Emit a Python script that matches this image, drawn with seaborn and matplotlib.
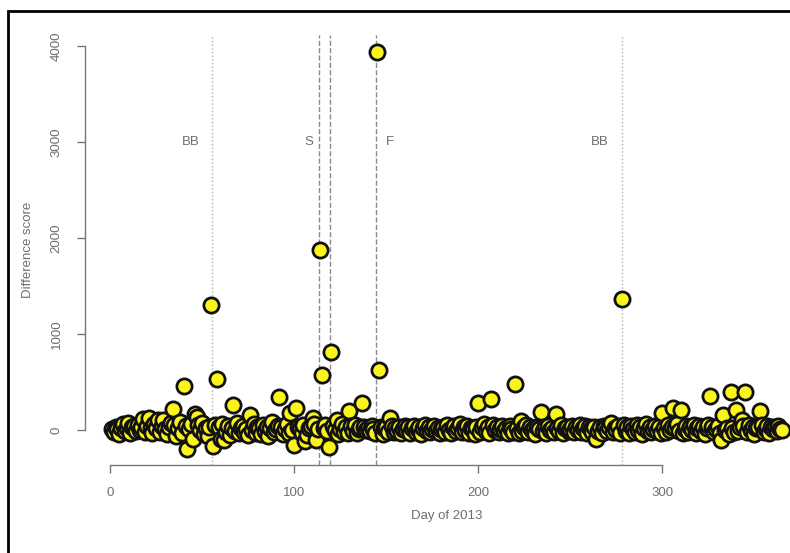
import matplotlib
matplotlib.use("Agg")
import matplotlib.pyplot as plt
import seaborn as sns
import pandas as pd
from matplotlib.patches import Rectangle

# ---------------- data ----------------
base_scores = [
    10, -20, 35, 5, -40, 20, 60, -10, 15, 70, -30, 25, 40, -15, 55, 0, 30, 80, -25, 45,
    110, 20, -35, 60, 15, 90, -20, 40, 100, 5, -45, 30, 70, -10, 50, -60, 20, 85, -30, 15,
    40, -50, 10, 65, -80, 30, -20, 55, 0, 75, -40, 20, -65, 35, 10, -30, 50, -15, 25, -45,
    60, 5, -25, 40, -55, 15, 30, -10, 70, -35, 20, 45, -20, 10, -50, 35, 0, 60, -30, 25,
    15, -40, 50, -10, 30, -60, 20, 80, -25, 10, 45, -15, 35, -45, 5, 60, -30, 25, -5, 40,
    -20, 30, 10, -35, 55, 0, -50, 20, 40, -15, 65, -25, 5, 35, -40, 15, 50, -10, 25, -30,
    45, -5, 20, -45, 10, 60, -20, 30, -35, 15, 40, -10, 55, -30, 5, 25, -50, 35, 0, 20,
    -15, 40, 10, -30, 50, -5, 25, -40, 15, 35, -20, 5, 45, -25, 20, -10, 30, -35, 10, 40,
    -5, 25, -30, 15, 45, -20, 5, 30, -40, 20, 55, -10, 35, -25, 10, 40, -15, 20, -30, 5,
    30, -20, 50, 0, -35, 25, 40, -10, 15, 60, -25, 30, -5, 45, -30, 20, 10, -40, 35, 5,
    -20, 30, 60, -10, 25, -35, 15, 50, -5, 35, -25, 10, 45, -15, 20, -30, 40, 5, -20, 30,
    15, -30, 45, -10, 25, 55, -20, 35, -5, 20, -40, 30, 10, 60, -15, 25, -35, 45, 0, 20,
    -25, 40, 15, -10, 50, -30, 20, 35, -15, 10, 45, -25, 30, -5, 55, -20, 15, 40, -35, 25,
    5, -20, 35, 60, -10, 25, -30, 45, 15, -15, 30, 70, -25, 20, -5, 40, -35, 15, 50, -10,
    25, -30, 40, 10, -20, 55, -5, 30, -40, 20, 65, -15, 35, -25, 10, 45, -10, 25, -35, 40,
    15, -25, 50, -5, 30, -45, 20, 60, -15, 35, -30, 10, 45, -20, 25, -5, 55, -35, 15, 40,
    -10, 30, -40, 20, 50, -15, 35, -25, 10, 45, -30, 25, 60, -5, 20, -40, 35, 15, -20, 50,
    -10, 25, -35, 40, 10, -20, 55, -5, 30, -45, 20, 35, -15, 50, -25, 10, 40, -30, 25, 5,
    30, -15, 45, 10, -5,
]

spike_days = [18, 21, 26, 34, 40, 42, 45, 46, 47, 55, 56, 58, 60, 62, 67, 76, 92, 98,
              100, 101, 106, 110, 112, 114, 115, 119, 120, 123, 130, 137, 145, 146, 152,
              200, 207, 220, 223, 234, 242, 264, 278, 300, 306, 310, 326, 332, 333, 337,
              340, 343, 345, 353]
spike_scores = [110, 120, 100, 220, 460, -200, -100, 170, 130, 1300, -165, 530, -90, -110,
                260, 150, 340, 180, -160, 230, -120, 120, -110, 1880, 575, -180, 810, 100,
                200, 280, 3940, 620, 120, 280, 320, 480, 90, 190, 170, -100, 1360, 180,
                230, 210, 350, -110, 150, 390, 210, 100, 390, 200]

event_days = [55.5, 113.5, 119.5, 144.5, 278.3]
event_styles = [":", "--", "--", "--", ":"]
event_labels = ["BB", "S", "F", "BB"]
label_x = [44, 108, 152, 266]
label_y = 3000

x_ticks = [0, 100, 200, 300]
y_ticks = [0, 1000, 2000, 3000, 4000]

scores = list(base_scores)
for d, v in zip(spike_days, spike_scores):
    scores[d - 1] = v
df = pd.DataFrame({"day": list(range(1, len(scores) + 1)), "score": scores})

# ---------------- plot ----------------
sns.set_theme(style="white")
plt.rcParams["font.family"] = ["Liberation Sans", "DejaVu Sans"]
grey = "#6e6e6e"

fig = plt.figure(figsize=(7.9, 5.53), dpi=100)
ax = fig.add_axes([85 / 790, 88 / 553, 724 / 790, 430 / 553])

for d, ls in zip(event_days, event_styles):
    col = "#b0b0b0" if ls == ":" else "#8a8a8a"
    ax.axvline(d, color=col, linestyle=ls, linewidth=1.0, zorder=1)

sns.scatterplot(data=df, x="day", y="score", ax=ax, s=120, color="#fbf41c",
                edgecolor="#111111", linewidth=2.0, zorder=3, legend=False)

for lx, lab in zip(label_x, event_labels):
    ax.text(lx, label_y, lab, ha="center", va="center", fontsize=9.5, color=grey)

ax.set_xlim(-13.6, 379.6)
ax.set_ylim(-366, 4116)
ax.set_xticks(x_ticks)
ax.set_yticks(y_ticks)
ax.set_xticklabels([str(t) for t in x_ticks])
ax.set_yticklabels([str(t) for t in y_ticks], rotation=90, va="center")

for s in ["top", "right"]:
    ax.spines[s].set_visible(False)
ax.spines["left"].set_bounds(0, 4000)
ax.spines["bottom"].set_bounds(0, 300)
for s in ["left", "bottom"]:
    ax.spines[s].set_color("#777777")
    ax.spines[s].set_linewidth(1.0)

ax.tick_params(axis="both", which="major", direction="out", length=6, width=1.0,
               color="#777777", labelcolor=grey, labelsize=9.5, left=True, bottom=True)
ax.tick_params(axis="y", pad=10)
ax.tick_params(axis="x", pad=10)
ax.set_xlabel("Day of 2013", color=grey, fontsize=9.5, labelpad=8)
ax.set_ylabel("Difference score", color=grey, fontsize=9.5, labelpad=12)

fig.patches.append(Rectangle((8 / 790, -0.2), 1.2, (553 - 11) / 553 + 0.2,
                             transform=fig.transFigure, fill=False,
                             edgecolor="black", linewidth=2.0, zorder=10))

fig.savefig("out.png", dpi=100)
